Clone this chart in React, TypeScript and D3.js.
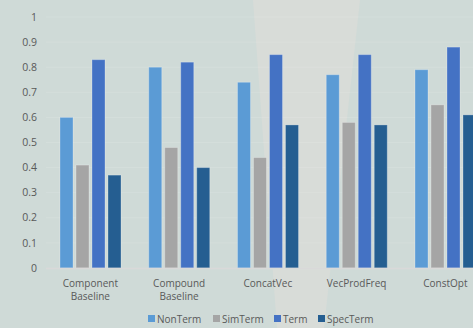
import React, { useEffect, useRef } from "react";
import * as d3 from "d3";

const categories = ["Component\nBaseline", "Compound\nBaseline", "ConcatVec", "VecProdFreq", "ConstOpt"];
const seriesNames = ["NonTerm", "SimTerm", "Term", "SpecTerm"];
const nonTerm = [0.6, 0.8, 0.74, 0.77, 0.79];
const simTerm = [0.41, 0.48, 0.44, 0.58, 0.65];
const term = [0.83, 0.82, 0.85, 0.85, 0.88];
const specTerm = [0.37, 0.4, 0.57, 0.57, 0.61];
const yTicks = [0, 0.1, 0.2, 0.3, 0.4, 0.5, 0.6, 0.7, 0.8, 0.9, 1];
const colors = ["#5B9BD5", "#A5A5A5", "#4472C4", "#255E91"];

const W = 473;
const H = 328;
const FONT = "'Open Sans', 'Noto Sans', sans-serif";

export default function App() {
  const ref = useRef<SVGSVGElement>(null);

  useEffect(() => {
    const svg = d3.select(ref.current);
    svg.selectAll("*").remove();

    // background
    svg.append("rect").attr("width", W).attr("height", H).attr("fill", "#cfdad7");
    svg.append("polygon")
      .attr("points", "253,0 360,0 324,328 277,328")
      .attr("fill", "#d8dcd8");

    const values = [nonTerm, simTerm, term, specTerm];
    const x = d3.scaleBand<string>().domain(categories).range([46, 46 + 5 * 88.75]).paddingInner(0).paddingOuter(0);
    const xs = d3.scaleBand<string>().domain(seriesNames).range([14, 75]).paddingInner(3 / 16).paddingOuter(0);
    const y = d3.scaleLinear().domain([0, 1]).range([268, 17]);

    // gridlines
    svg.append("g").selectAll("line").data(yTicks.slice(1)).join("line")
      .attr("x1", 46).attr("x2", W)
      .attr("y1", (d) => y(d)).attr("y2", (d) => y(d))
      .attr("stroke", "#ffffff").attr("stroke-opacity", 0.12).attr("stroke-width", 1);

    // y tick labels
    svg.append("g").selectAll("text").data(yTicks).join("text")
      .attr("x", 37).attr("y", (d) => y(d)).attr("dy", "0.35em")
      .attr("text-anchor", "end")
      .attr("font-family", FONT).attr("font-size", 10.5).attr("fill", "#595959")
      .text((d) => d3.format("")(+d.toFixed(1)));

    // bars
    const g = svg.append("g");
    categories.forEach((c, ci) => {
      seriesNames.forEach((s, si) => {
        const v = values[si][ci];
        g.append("rect")
          .attr("x", (x(c) as number) + (xs(s) as number))
          .attr("y", y(v))
          .attr("width", xs.bandwidth())
          .attr("height", y(0) - y(v))
          .attr("fill", colors[si])
          .attr("stroke", "#ffffff").attr("stroke-opacity", 0.25).attr("stroke-width", 1);
      });
    });

    // x axis line
    svg.append("line").attr("x1", 46).attr("x2", W).attr("y1", y(0) + 0.5).attr("y2", y(0) + 0.5)
      .attr("stroke", "#d9d9d9").attr("stroke-width", 1.5);

    // category labels
    categories.forEach((c) => {
      const cx = (x(c) as number) + x.bandwidth() / 2;
      const lines = c.split("\n");
      const t = svg.append("text").attr("text-anchor", "middle")
        .attr("font-family", FONT).attr("font-size", 10).attr("fill", "#595959");
      lines.forEach((ln, i) => {
        t.append("tspan").attr("x", cx).attr("y", 287 + i * 13).text(ln);
      });
    });

    // legend
    const legendX = [148, 213, 274, 318];
    seriesNames.forEach((s, i) => {
      svg.append("rect").attr("x", legendX[i]).attr("y", 315).attr("width", 7).attr("height", 7).attr("fill", colors[i]);
      svg.append("text").attr("x", legendX[i] + 9).attr("y", 322.5)
        .attr("font-family", FONT).attr("font-size", 10).attr("fill", "#595959").text(s);
    });
  }, []);

  return (
    <svg ref={ref} width={W} height={H} style={{ position: "fixed", left: 0, top: 0, display: "block" }} />
  );
}
